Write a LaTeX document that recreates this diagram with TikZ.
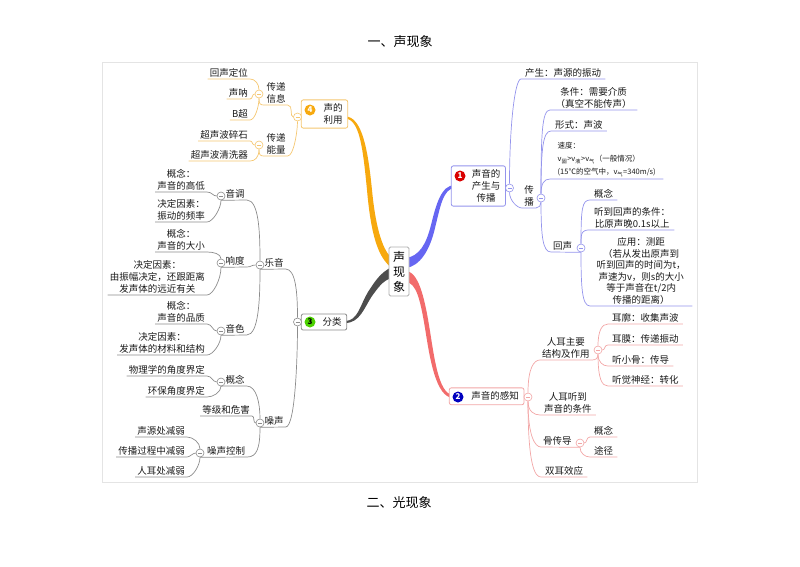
\documentclass[tikz,border=0pt]{standalone}
\usepackage{fontspec}
\setmainfont{Noto Sans CJK SC}
\usetikzlibrary{fit,backgrounds}

\definecolor{orgmain}{HTML}{F7A90E}
\definecolor{orgline}{HTML}{F5C771}
\definecolor{graymain}{HTML}{4D4D4D}
\definecolor{grayline}{HTML}{8C8C8C}
\definecolor{bluemain}{HTML}{6666F2}
\definecolor{blueline}{HTML}{9494EC}
\definecolor{redmain}{HTML}{F26B6B}
\definecolor{redline}{HTML}{F2A6A6}
\definecolor{framegray}{HTML}{E4E4E4}
\definecolor{inkgray}{HTML}{1A1A1A}

\tikzset{
  txt/.style={font=\fontsize{9.5}{12}\selectfont, text=inkgray, inner xsep=2pt, inner ysep=1.5pt, align=center},
  leafL/.style={txt, anchor=south east},
  leafR/.style={txt, anchor=south west, inner xsep=4pt},
  small/.style={txt, font=\fontsize{7.5}{13}\selectfont, align=left, anchor=south west},
  fold/.style={circle, draw=#1, fill=white, line width=0.6pt, minimum size=8pt, inner sep=0pt,
    path picture={\draw[#1, line width=0.6pt] ([xshift=-2pt]path picture bounding box.center) -- ([xshift=2pt]path picture bounding box.center);}},
  link/.style={draw=#1, line width=0.7pt},
  badge/.style={circle, fill=#1, text=white, inner sep=0pt, minimum size=11pt, font=\fontsize{8}{8}\selectfont\bfseries},
  topic/.style={draw=#1, fill=white, line width=0.8pt, rounded corners=2pt, inner xsep=3pt, inner ysep=2pt},
  hub/.style={draw=grayline!70, fill=white, line width=0.8pt, rounded corners=1.5pt, font=\fontsize{12}{15}\selectfont, inner xsep=4pt, inner ysep=4pt, align=center},
  title/.style={font=\fontsize{13}{15}\selectfont, text=black}
}

\begin{document}
\begin{tikzpicture}[x=1pt,y=-1pt]
\useasboundingbox (0,0) rectangle (800,566);
\node[title] (head1) at (400,42) {一、声现象};
\node[title] (head2) at (399,503) {二、光现象};
\node[hub] (hub) at (399,271.5) {声\\现\\象};

% 4 声的利用
\node[badge=orgmain] (b4) at (310,110) {4};
\node[txt] (t4) at (333,114) {声的\\利用};
\node[fold=orgline] (f4) at (297.5,117) {};
\node[txt, anchor=south] (xx) at (276,105) {传递\\信息};
\node[fold=orgline] (fxx) at (259,94) {};
\node[txt, anchor=south] (nl) at (276,156) {传递\\能量};
\node[fold=orgline] (fnl) at (259,145) {};
\foreach \n/\y/\t in {a1/79/回声定位, a2/99/声呐, a3/120/B超, b1/141/超声波碎石, b2/161/超声波清洗器}
    \node[leafL] (\n) at (250,\y) {\t};
\draw[link=orgline] (fxx.south) .. controls +(0,6) and +(-4,0) .. (xx.south west) -- (xx.south east) .. controls +(6,0) and +(-4,0) .. (f4.west);
\draw[link=orgline] (fnl.south) .. controls +(0,6) and +(-4,0) .. (nl.south west) -- (nl.south east) .. controls +(6,0) and +(0,10) .. (f4.south);
\draw[link=orgline] (a1.south west) -- (a1.south east) .. controls +(5,0) and +(0,-6) .. (fxx.north);
\draw[link=orgline] (a2.south west) -- (a2.south east) .. controls +(3,0) and +(-3,0) .. (fxx.west);
\draw[link=orgline] (a3.south west) -- (a3.south east) .. controls +(5,0) and +(0,8) .. (fxx.south);
\draw[link=orgline] (b1.south west) -- (b1.south east) .. controls +(3,0) and +(-3,0) .. (fnl.west);
\draw[link=orgline] (b2.south west) -- (b2.south east) .. controls +(5,0) and +(0,8) .. (fnl.south);

% 3 分类
\node[badge=green!70!black!60!lime, text=black] (b3) at (310,322) {3};
\node[txt] (t3) at (332,322) {分类};
\node[fold=grayline] (f3) at (297.5,322) {};
\node[txt, anchor=south] (yy) at (274,269) {乐音};
\node[fold=grayline] (fyy) at (260,265) {};
\node[txt, anchor=south] (yd) at (235,200) {音调};
\node[fold=grayline] (fyd) at (221,196) {};
\node[txt, anchor=south] (xd) at (235,267) {响度};
\node[fold=grayline] (fxd) at (221,263) {};
\node[txt, anchor=south] (ys) at (235,335) {音色};
\node[fold=grayline] (fys) at (221,331) {};
\node[leafL] (c1) at (207,192) {概念：\\声音的高低};
\node[leafL] (c2) at (207,222) {决定因素：\\振动的频率};
\node[leafL] (c3) at (207,252) {概念：\\声音的大小};
\node[leafL] (c4) at (207,295) {决定因素：\\由振幅决定，还跟距离\\发声体的远近有关};
\node[leafL] (c5) at (207,324) {概念：\\声音的品质};
\node[leafL] (c6) at (207,355) {决定因素：\\发声体的材料和结构};
\node[txt, anchor=south] (zs) at (274,427) {噪声};
\node[fold=grayline] (fzs) at (260,423) {};
\node[txt, anchor=south] (gn) at (235,386) {概念};
\node[fold=grayline] (fgn) at (221,382) {};
\node[leafL] (d1) at (207,376) {物理学的角度界定};
\node[leafL] (d2) at (207,397) {环保角度界定};
\node[leafL] (dj) at (252,416) {等级和危害};
\node[txt, anchor=south] (kz) at (226,457) {噪声控制};
\node[fold=grayline] (fkz) at (200,453) {};
\foreach \n/\y/\t in {e1/437/声源处减弱, e2/457/传播过程中减弱, e3/477/人耳处减弱}
    \node[leafL] (\n) at (187,\y) {\t};
\draw[link=grayline] (fyy.south) -- (yy.south east) .. controls +(10,0) and +(0,-25) .. (f3.north);
\draw[link=grayline] (fzs.south) -- (zs.south east) .. controls +(10,0) and +(0,25) .. (f3.south);
\draw[link=grayline] (fyd.south) -- (yd.south east) .. controls +(12,0) and +(0,-30) .. (fyy.north);
\draw[link=grayline] (fxd.south) -- (xd.south east) .. controls +(5,0) and +(-5,0) .. (fyy.west);
\draw[link=grayline] (fys.south) -- (ys.south east) .. controls +(12,0) and +(0,30) .. (fyy.south);
\draw[link=grayline] (c1.south west) -- (c1.south east) .. controls +(5,0) and +(-4,0) .. (fyd.west);
\draw[link=grayline] (c2.south west) -- (c2.south east) .. controls +(6,0) and +(0,8) .. (fyd.south);
\draw[link=grayline] (c3.south west) -- (c3.south east) .. controls +(6,0) and +(0,-5) .. (fxd.north);
\draw[link=grayline] (c4.south west) -- (c4.south east) .. controls +(6,0) and +(0,12) .. (fxd.south);
\draw[link=grayline] (c5.south west) -- (c5.south east) .. controls +(5,0) and +(-4,0) .. (fys.west);
\draw[link=grayline] (c6.south west) -- (c6.south east) .. controls +(6,0) and +(0,8) .. (fys.south);
\draw[link=grayline] (gn.south west) -- (gn.south east) .. controls +(10,0) and +(0,-15) .. (fzs.north);
\draw[link=grayline] (fgn.south) -- (gn.south west);
\draw[link=grayline] (d1.south west) -- (d1.south east) .. controls +(5,0) and +(-4,0) .. (fgn.west);
\draw[link=grayline] (d2.south west) -- (d2.south east) .. controls +(6,0) and +(0,6) .. (fgn.south);
\draw[link=grayline] (dj.south west) -- (dj.south east) .. controls +(3,0) and +(-3,0) .. (fzs.west);
\draw[link=grayline] (fkz.south) -- (kz.south east) .. controls +(10,0) and +(0,20) .. (fzs.south);
\draw[link=grayline] (e1.south west) -- (e1.south east) .. controls +(6,0) and +(0,-6) .. (fkz.north);
\draw[link=grayline] (e2.south west) -- (e2.south east) .. controls +(3,0) and +(-3,0) .. (fkz.west);
\draw[link=grayline] (e3.south west) -- (e3.south east) .. controls +(6,0) and +(0,8) .. (fkz.south);

% 1 声音的产生与传播
\node[badge=red!85!black] (b1) at (460,176) {1};
\node[txt] (t1) at (486,186) {声音的\\产生与\\传播};
\node[fold=blueline] (f1) at (509.5,188) {};
\node[leafR] (cs) at (521,79) {产生：声源的振动};
\node[txt, anchor=south] (cb) at (529,208) {传\\播};
\node[fold=blueline] (fcb) at (541,198) {};
\node[leafR, minimum width=87pt] (tj) at (550,110) {条件：需要介质\\（真空不能传声）};
\node[leafR] (xs) at (551,131) {形式：声波};
\node[small, minimum width=113pt] (sd) at (550,179) {速度：\\v\textsubscript{固}>v\textsubscript{液}>v\textsubscript{气}（一般情况）\\(15℃的空气中，v\textsubscript{气}=340m/s)};
\node[txt, anchor=south west] (hs) at (551,252) {回声};
\node[fold=blueline] (fhs) at (581,248) {};
\node[leafR] (h1) at (590,200) {概念};
\node[leafR] (h2) at (590,230) {听到回声的条件：\\比原声晚0.1s以上};
\node[leafR, minimum width=102pt, font=\fontsize{9.5}{11.5}\selectfont] (h3) at (590,306) {应用：测距\\（若从发出原声到\\听到回声的时间为t，\\声速为v，则s的大小\\等于声音在t/2内\\传播的距离）};
\draw[link=blueline] (f1.north) .. controls +(0,-60) and +(-6,0) .. (cs.south west) -- (cs.south east);
\draw[link=blueline] (f1.south) .. controls +(0,8) and +(-5,0) .. (cb.south west) -- (cb.south east) .. controls +(3,0) and +(0,3) .. (fcb.south);
\draw[link=blueline] (fcb.north) .. controls +(0,-60) and +(-8,0) .. (tj.south west) -- (tj.south east);
\draw[link=blueline] (fcb.north) .. controls +(0,-45) and +(-8,0) .. (xs.south west) -- (xs.south east);
\draw[link=blueline] (fcb.north) .. controls +(0,-10) and +(-6,0) .. (sd.south west) -- (sd.south east);
\draw[link=blueline] (fcb.south) .. controls +(0,35) and +(-8,0) .. (hs.south west) -- (fhs.south);
\draw[link=blueline] (fhs.north) .. controls +(0,-35) and +(-8,0) .. (h1.south west) -- (h1.south east);
\draw[link=blueline] (fhs.north) .. controls +(0,-12) and +(-8,0) .. (h2.south west) -- (h2.south east);
\draw[link=blueline] (fhs.south) .. controls +(0,35) and +(-8,0) .. (h3.south west) -- (h3.south east);

% 2 声音的感知
\node[badge=blue!75!black] (b2) at (458,397) {2};
\node[txt] (t2) at (495,396) {声音的感知};
\node[fold=redline] (f2) at (528,397) {};
\node[txt, anchor=south west] (jg) at (540,360) {人耳主要\\结构及作用};
\node[fold=redline] (fjg) at (598,350) {};
\foreach \n/\y/\t in {r1/324/耳廓：收集声波, r2/345/耳膜：传递振动, r3/366/听小骨：传导, r4/386/听觉神经：转化}
    \node[leafR] (\n) at (608,\y) {\t};
\node[leafR] (tt) at (540,415) {人耳听到\\声音的条件};
\node[txt, anchor=south west] (gc) at (541,447) {骨传导};
\node[fold=redline] (fgc) at (580,443) {};
\node[leafR] (g1) at (590,437) {概念};
\node[leafR] (g2) at (590,457) {途径};
\node[leafR] (se) at (541,477) {双耳效应};
\draw[link=redline] (f2.north) .. controls +(0,-25) and +(-6,0) .. (jg.south west) -- (jg.south east) .. controls +(4,0) and +(0,4) .. (fjg.south);
\draw[link=redline] (fjg.north) .. controls +(0,-15) and +(-6,0) .. (r1.south west) -- (r1.south east);
\draw[link=redline] (fjg.east) .. controls +(3,0) and +(-4,0) .. (r2.south west) -- (r2.south east);
\draw[link=redline] (fjg.south) .. controls +(0,8) and +(-5,0) .. (r3.south west) -- (r3.south east);
\draw[link=redline] (fjg.south) .. controls +(0,25) and +(-6,0) .. (r4.south west) -- (r4.south east);
\draw[link=redline] (f2.south) .. controls +(0,10) and +(-6,0) .. (tt.south west) -- (tt.south east);
\draw[link=redline] (f2.south) .. controls +(0,35) and +(-6,0) .. (gc.south west) -- (fgc.south);
\draw[link=redline] (fgc.east) .. controls +(3,0) and +(-4,0) .. (g1.south west) -- (g1.south east);
\draw[link=redline] (fgc.south) .. controls +(0,6) and +(-5,0) .. (g2.south west) -- (g2.south east);
\draw[link=redline] (f2.south) .. controls +(0,65) and +(-6,0) .. (se.south west) -- (se.south east);

\begin{scope}[on background layer]
\draw[framegray, line width=0.8pt] (102,62) rectangle (697,482);
% main branches
\fill[orgmain] (345,118.5) .. controls (360,119) and (363,150) .. (367,190) .. controls (371,235) and (378,258) .. (392,268) -- (392,258) .. controls (384,252) and (376,232) .. (372,190) .. controls (368,150) and (362,116) .. (345,116.5) -- cycle;
\fill[graymain] (345,321) .. controls (358,321) and (360,305) .. (368,292) .. controls (375,281) and (381,272) .. (392,267) -- (392,278) .. controls (383,280) and (378,288) .. (372,296) .. controls (364,308) and (360,323) .. (345,323) -- cycle;
\fill[bluemain] (455,185) .. controls (441,185) and (436,205) .. (431,225) .. controls (426,245) and (419,256) .. (406,258) -- (406,268) .. controls (420,266) and (430,250) .. (435,228) .. controls (440,208) and (443,188) .. (455,188) -- cycle;
\fill[redmain] (406,271) .. controls (418,272) and (424,295) .. (429,325) .. controls (434,355) and (438,394) .. (453,395) -- (453,398) .. controls (436,397) and (430,360) .. (425,328) .. controls (420,298) and (416,283) .. (406,282) -- cycle;
\node[topic=orgline, fit=(b4)(t4)] (n4) {};
\node[topic=grayline, fit=(b3)(t3)] (n3) {};
\node[topic=blueline, fit=(b1)(t1)] (n1) {};
\node[topic=redline, fit=(b2)(t2)] (n2) {};
\end{scope}
\end{tikzpicture}
\end{document}
